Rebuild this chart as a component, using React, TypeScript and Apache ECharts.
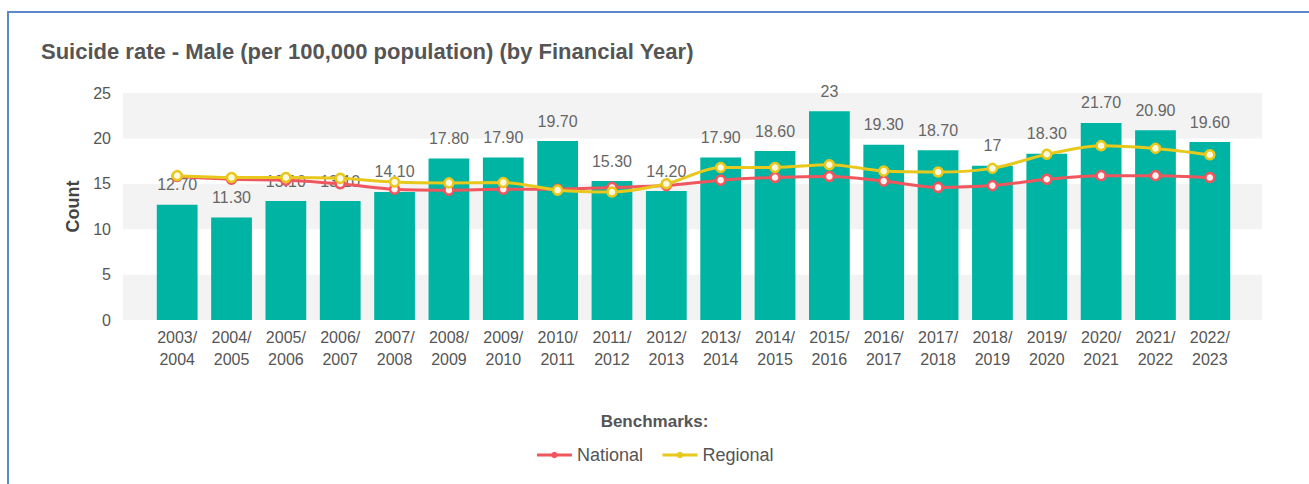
import React, { useEffect, useRef } from "react";
import * as echarts from "echarts";

const categories = [
  "2003/\n2004", "2004/\n2005", "2005/\n2006", "2006/\n2007", "2007/\n2008",
  "2008/\n2009", "2009/\n2010", "2010/\n2011", "2011/\n2012", "2012/\n2013",
  "2013/\n2014", "2014/\n2015", "2015/\n2016", "2016/\n2017", "2017/\n2018",
  "2018/\n2019", "2019/\n2020", "2020/\n2021", "2021/\n2022", "2022/\n2023",
];
const maleRate = [12.7, 11.3, 13.1, 13.1, 14.1, 17.8, 17.9, 19.7, 15.3, 14.2, 17.9, 18.6, 23, 19.3, 18.7, 17, 18.3, 21.7, 20.9, 19.6];
const rateLabels = ["12.70", "11.30", "13.10", "13.10", "14.10", "17.80", "17.90", "19.70", "15.30", "14.20", "17.90", "18.60", "23", "19.30", "18.70", "17", "18.30", "21.70", "20.90", "19.60"];
const national = [15.8, 15.5, 15.4, 15.0, 14.4, 14.3, 14.4, 14.4, 14.6, 14.8, 15.4, 15.7, 15.8, 15.3, 14.6, 14.8, 15.5, 15.9, 15.9, 15.7];
const regional = [15.9, 15.7, 15.7, 15.6, 15.2, 15.1, 15.15, 14.3, 14.1, 15.0, 16.8, 16.8, 17.1, 16.4, 16.3, 16.7, 18.25, 19.2, 18.9, 18.2];
const yTicks = { min: 0, max: 25, interval: 5 };

const NARROW = "'Liberation Sans Narrow', 'Arial Narrow', 'Liberation Sans', Arial, sans-serif";
const SANS = "'Liberation Sans', Arial, sans-serif";
const RED = "#f0565e";
const YELLOW = "#e8c81c";

export default function App() {
  const ref = useRef<HTMLDivElement>(null);
  useEffect(() => {
    const chart = echarts.init(ref.current!, null, { renderer: "svg" });
    chart.setOption({
      animation: false,
      backgroundColor: "#ffffff",
      title: [
        {
          text: "Suicide rate - Male (per 100,000 population) (by Financial Year)",
          left: 36,
          top: 35,
          textStyle: { fontFamily: SANS, fontSize: 22, fontWeight: "bold", color: "#555555" },
        },
        {
          text: "Benchmarks:",
          left: "center",
          top: 408,
          textStyle: { fontFamily: SANS, fontSize: 17, fontWeight: "bold", color: "#555555" },
        },
      ],
      graphic: [
        {
          type: "rect",
          shape: { x: 8, y: 12, width: 1400, height: 600 },
          style: { fill: "none", stroke: "#5b88cc", lineWidth: 2 },
          silent: true,
        },
      ],
      legend: {
        data: [
          { name: "National", itemStyle: { color: RED, borderWidth: 0 } },
          { name: "Regional", itemStyle: { color: YELLOW, borderWidth: 0 } },
        ],
        left: "center",
        top: 441,
        itemWidth: 35,
        itemHeight: 8,
        itemGap: 18,
        lineStyle: { width: 3 },
        textStyle: { fontFamily: NARROW, fontSize: 18, color: "#555555" },
      },
      grid: [
        { left: 123, right: 47, top: 93, bottom: 164 },
        { left: 150, right: 72, top: 93, bottom: 164 },
      ],
      xAxis: [
        { type: "value", gridIndex: 0, show: false, min: 0, max: 1 },
        {
          type: "category",
          gridIndex: 1,
          data: categories,
          axisLine: { show: false },
          axisTick: { show: false },
          axisLabel: {
            interval: 0,
            margin: 6,
            fontFamily: NARROW,
            fontSize: 16,
            lineHeight: 22,
            color: "#555555",
          },
        },
      ],
      yAxis: [
        {
          type: "value",
          gridIndex: 0,
          ...yTicks,
          name: "Count",
          nameLocation: "middle",
          nameGap: 38,
          nameTextStyle: { fontFamily: SANS, fontSize: 18, fontWeight: "bold", color: "#444444" },
          axisLine: { show: false },
          axisTick: { show: false },
          splitLine: { show: false },
          splitArea: { show: true, areaStyle: { color: ["#f3f3f3", "#ffffff"] } },
          axisLabel: { margin: 12, fontFamily: NARROW, fontSize: 16, color: "#555555" },
        },
        {
          type: "value",
          gridIndex: 1,
          ...yTicks,
          show: false,
          splitLine: { show: false },
        },
      ],
      series: [
        {
          name: "Suicide rate",
          type: "bar",
          xAxisIndex: 1,
          yAxisIndex: 1,
          data: maleRate,
          barWidth: "75%",
          itemStyle: { color: "#00b4a3" },
          label: {
            show: true,
            position: "top",
            distance: 12,
            fontFamily: SANS,
            fontSize: 16,
            color: "#666666",
            formatter: (p: any) => rateLabels[p.dataIndex],
          },
          z: 1,
        },
        {
          name: "National",
          type: "line",
          xAxisIndex: 1,
          yAxisIndex: 1,
          data: national,
          smooth: 0.3,
          symbol: "circle",
          symbolSize: 9,
          color: RED,
          lineStyle: { width: 3, color: RED },
          itemStyle: { color: "#fff4f4", borderColor: RED, borderWidth: 2.5 },
          z: 3,
        },
        {
          name: "Regional",
          type: "line",
          xAxisIndex: 1,
          yAxisIndex: 1,
          data: regional,
          smooth: 0.3,
          symbol: "circle",
          symbolSize: 9,
          color: YELLOW,
          lineStyle: { width: 3, color: YELLOW },
          itemStyle: { color: "#fffbe0", borderColor: YELLOW, borderWidth: 2.5 },
          z: 4,
        },
      ],
    });
    return () => chart.dispose();
  }, []);
  return (
    <div
      ref={ref}
      style={{ position: "fixed", left: 0, top: 0, width: 1309, height: 484 }}
    />
  );
}
